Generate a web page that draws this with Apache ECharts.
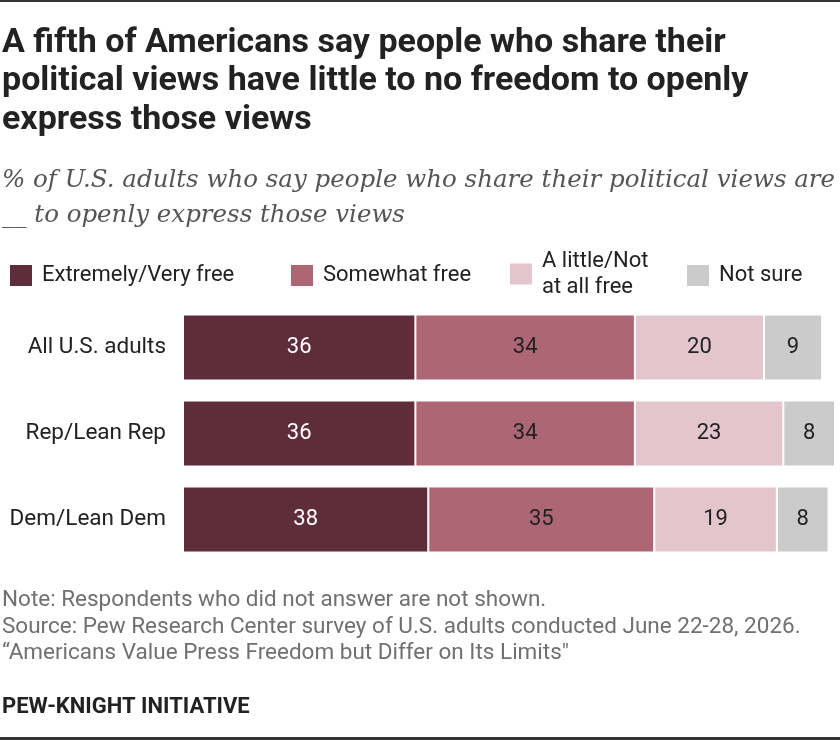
<!DOCTYPE html>
<html>
<head>
<meta charset="utf-8">
<script src="https://cdn.jsdelivr.net/npm/echarts@6/dist/echarts.min.js"></script>
<style>
    html, body { margin: 0; padding: 0; background: #fff; }
    #chart { width: 840px; height: 740px; }
</style>
</head>
<body>
<div id="chart"></div>
<script>
// 数据
var categories = ['All U.S. adults', 'Rep/Lean Rep', 'Dem/Lean Dem'];
var seriesNames = ['Extremely/Very free', 'Somewhat free', 'A little/Not\nat all free', 'Not sure'];
var veryFree = [36, 36, 38];
var somewhatFree = [34, 34, 35];
var littleFree = [20, 23, 19];
var notSure = [9, 8, 8];

var colors = ['#5e2c3a', '#ac6674', '#e3c5cd', '#cbcbcb'];
var labelColors = ['#ffffff', '#222222', '#222222', '#222222'];
var legendLeft = [8, 289, 508, 685];

var sans = 'Roboto, "Noto Sans", sans-serif';

var chart = echarts.init(document.getElementById('chart'));

function makeSeries(idx, data) {
    return {
        name: seriesNames[idx],
        type: 'bar',
        stack: 'total',
        barWidth: 66,
        clip: false,
        data: data,
        itemStyle: {
            color: colors[idx],
            borderColor: '#ffffff',
            borderWidth: 1
        },
        label: {
            show: true,
            position: 'inside',
            color: labelColors[idx],
            fontFamily: sans,
            fontSize: 22
        },
        emphasis: { disabled: true }
    };
}

//图例
var legends = [];
for (var i = 0; i < seriesNames.length; i++) {
    legends.push({
        data: [seriesNames[i]],
        left: legendLeft[i],
        top: i === 2 ? 248 : 262.5,
        padding: 0,
        itemWidth: 24,
        itemHeight: 23,
        icon: 'rect',
        selectedMode: false,
        textStyle: {
            fontFamily: sans,
            fontSize: 22,
            color: '#222',
            lineHeight: 26,
            padding: [0, 0, 0, 4]
        }
    });
}

var option = {
    animation: false,
    grid: {
        left: 183,
        right: 5,
        top: 304.5,
        bottom: 177.5
    },
    legend: legends,
    xAxis: {
        type: 'value',
        min: 0,
        max: 101,
        show: false
    },
    yAxis: {
        type: 'category',
        inverse: true,
        data: categories,
        axisLine: { show: false },
        axisTick: { show: false },
        axisLabel: {
            margin: 17,
            fontFamily: sans,
            fontSize: 22.5,
            color: '#222'
        }
    },
    series: [
        makeSeries(0, veryFree),
        makeSeries(1, somewhatFree),
        makeSeries(2, littleFree),
        makeSeries(3, notSure)
    ],
    graphic: [
        // 上下边框
        { type: 'rect', shape: { x: 0, y: 0, width: 840, height: 2 }, style: { fill: '#333' } },
        { type: 'rect', shape: { x: 0, y: 737, width: 840, height: 3 }, style: { fill: '#333' } },
        // 标题
        {
            type: 'text', left: 2, top: 24,
            style: {
                text: 'A fifth of Americans say people who share their\npolitical views have little to no freedom to openly\nexpress those views',
                font: 'bold 34px ' + sans,
                fill: '#222',
                lineHeight: 38.5
            }
        },
        // 副标题
        {
            type: 'text', left: 2, top: 163.5,
            style: {
                text: '% of U.S. adults who say people who share their political views are\n__ to openly express those views',
                font: 'italic 24.5px "DejaVu Serif", serif',
                fill: '#555',
                lineHeight: 35
            }
        },
        // 注释
        {
            type: 'text', left: 2, top: 587.5,
            style: {
                text: 'Note: Respondents who did not answer are not shown.\nSource: Pew Research Center survey of U.S. adults conducted June 22-28, 2026.\n\u201cAmericans Value Press Freedom but Differ on Its Limits"',
                font: '22.5px ' + sans,
                fill: '#707070',
                lineHeight: 26.5
            }
        },
        {
            type: 'text', left: 2, top: 696,
            style: {
                text: 'PEW-KNIGHT INITIATIVE',
                font: 'bold 22px ' + sans,
                fill: '#222'
            }
        }
    ]
};

chart.setOption(option);
</script>
</body>
</html>
